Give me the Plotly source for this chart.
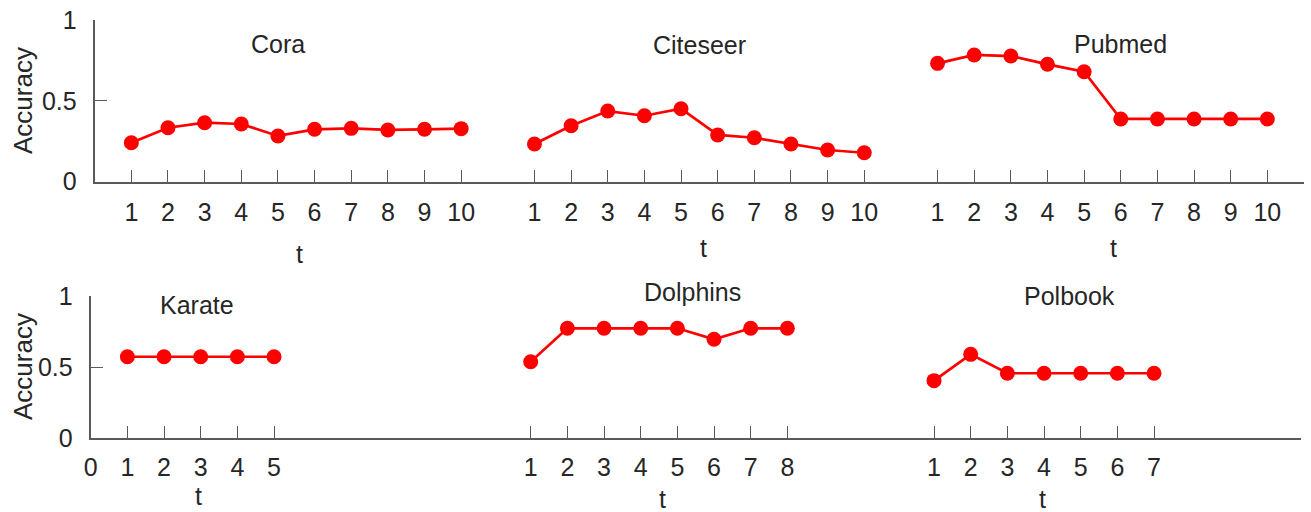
import plotly.graph_objects as go

# ---- data ----
cora_t = [1, 2, 3, 4, 5, 6, 7, 8, 9, 10]
cora_acc = [0.241, 0.334, 0.365, 0.357, 0.283, 0.324, 0.330, 0.320, 0.324, 0.328]
citeseer_t = [1, 2, 3, 4, 5, 6, 7, 8, 9, 10]
citeseer_acc = [0.233, 0.346, 0.437, 0.408, 0.451, 0.289, 0.272, 0.233, 0.196, 0.179]
pubmed_t = [1, 2, 3, 4, 5, 6, 7, 8, 9, 10]
pubmed_acc = [0.732, 0.784, 0.777, 0.726, 0.680, 0.388, 0.388, 0.388, 0.388, 0.388]
karate_t = [1, 2, 3, 4, 5]
karate_acc = [0.573, 0.573, 0.573, 0.573, 0.573]
dolphins_t = [1, 2, 3, 4, 5, 6, 7, 8]
dolphins_acc = [0.538, 0.773, 0.773, 0.773, 0.773, 0.696, 0.773, 0.773]
polbook_t = [1, 2, 3, 4, 5, 6, 7]
polbook_acc = [0.405, 0.590, 0.457, 0.457, 0.457, 0.457, 0.457]

top_names = ["Cora", "Citeseer", "Pubmed"]
bottom_names = ["Karate", "Dolphins", "Polbook"]

# ---- styling / layout ----
RED = "#ff0000"
TXT = "#262626"
AX = "#5a5a5a"
FONT = "Liberation Sans, Arial, sans-serif"
W, H = 1311, 512
offsets = [0, 11, 22]  # each group placed on a shared axis, separated by a gap

fig = go.Figure()

rows = [
    ("x", "y", [(cora_t, cora_acc), (citeseer_t, citeseer_acc), (pubmed_t, pubmed_acc)]),
    ("x2", "y2", [(karate_t, karate_acc), (dolphins_t, dolphins_acc), (polbook_t, polbook_acc)]),
]

tickvals = {"x": [], "x2": [0]}
ticktext = {"x": [], "x2": ["0"]}
for xa, ya, groups in rows:
    for off, (t, acc) in zip(offsets, groups):
        xs = [v + off for v in t]
        fig.add_trace(go.Scatter(
            x=xs, y=acc, xaxis=xa, yaxis=ya, mode="lines+markers",
            line=dict(color=RED, width=2.7),
            marker=dict(color=RED, size=15),
            showlegend=False, hoverinfo="skip", cliponaxis=False))
        tickvals[xa] += xs
        ticktext[xa] += [str(v) for v in t]

TICKSZ = 25
axis_common = dict(showline=True, linecolor=AX, linewidth=2, showgrid=False,
                   zeroline=False, ticks="inside", ticklen=12, tickcolor=AX,
                   tickwidth=1.3, automargin=False,
                   tickfont=dict(family=FONT, size=TICKSZ, color=TXT))

top_dom_x = [94.7 / W, 1304 / W]
bot_dom_x = [90.7 / W, 1300.7 / W]
top_dom_y = [1 - 181.7 / H, 1 - 20 / H]
bot_dom_y = [1 - 438.3 / H, 1 - 296 / H]

fig.update_layout(
    width=W, height=H, margin=dict(l=0, r=0, t=0, b=0, pad=0, autoexpand=False),
    paper_bgcolor="white", plot_bgcolor="white",
    xaxis=dict(axis_common, domain=top_dom_x, range=[0, 33], anchor="y",
               tickmode="array", tickvals=tickvals["x"], ticktext=ticktext["x"],
               ticklabelstandoff=7),
    yaxis=dict(axis_common, domain=top_dom_y, range=[0, 1], anchor="x",
               tickmode="array", tickvals=[0, 0.5, 1], ticktext=["0", "0.5", "1"],
               ticklabelstandoff=11),
    xaxis2=dict(axis_common, domain=bot_dom_x, range=[0, 33], anchor="y2",
                tickmode="array", tickvals=tickvals["x2"], ticktext=ticktext["x2"],
                ticklabelstandoff=6),
    yaxis2=dict(axis_common, domain=bot_dom_y, range=[0, 1], anchor="x2",
                tickmode="array", tickvals=[0, 0.5, 1], ticktext=["0", "0.5", "1"],
                ticklabelstandoff=11),
)

ann = []
# dataset titles (x in data coords, y in paper coords)
title_specs = [
    ("x", 0 + 5.0, 44, top_names[0]),
    ("x", 11 + 5.5, 45, top_names[1]),
    ("x", 22 + 6.0, 44, top_names[2]),
    ("x2", 0 + 2.9, 305, bottom_names[0]),
    ("x2", 11 + 5.4, 292, bottom_names[1]),
    ("x2", 22 + 4.7, 296, bottom_names[2]),
]
for xr, xv, ypx, txt in title_specs:
    ann.append(dict(xref=xr, yref="paper", x=xv, y=1 - ypx / H, text=txt,
                    showarrow=False, xanchor="center", yanchor="middle",
                    font=dict(family=FONT, size=TICKSZ, color=TXT)))
# "t" axis labels under each group
t_specs = [
    ("x", 0 + 5.6, 254), ("x", 11 + 5.6, 248), ("x", 22 + 5.8, 248),
    ("x2", 0 + 2.95, 496), ("x2", 11 + 4.6, 499), ("x2", 22 + 3.95, 499),
]
for xr, xv, ypx in t_specs:
    ann.append(dict(xref=xr, yref="paper", x=xv, y=1 - ypx / H, text="t",
                    showarrow=False, xanchor="center", yanchor="middle",
                    font=dict(family=FONT, size=TICKSZ, color=TXT)))
# y-axis titles
for ypx in (101, 367):
    ann.append(dict(xref="paper", yref="paper", x=23 / W, y=1 - ypx / H,
                    text="Accuracy", textangle=-90, showarrow=False,
                    xanchor="center", yanchor="middle",
                    font=dict(family=FONT, size=26, color=TXT)))
fig.update_layout(annotations=ann)

fig.write_html("out.html")
